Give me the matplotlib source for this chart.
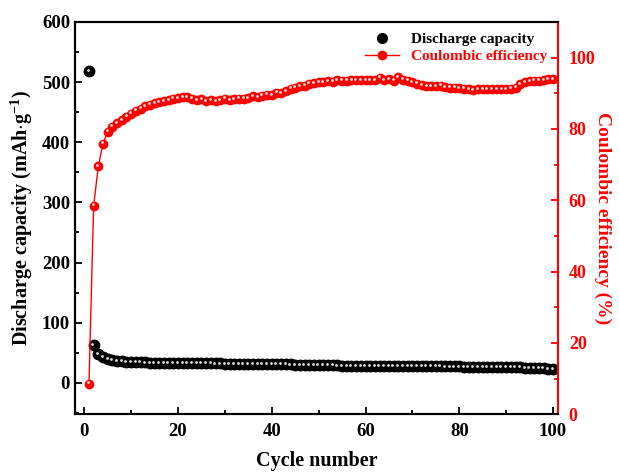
import numpy as np
import matplotlib.pyplot as plt
from matplotlib.ticker import MultipleLocator
from matplotlib.lines import Line2D

plt.rcParams['font.family'] = ['Liberation Serif', 'DejaVu Serif']
plt.rcParams['font.weight'] = 'bold'
plt.rcParams['mathtext.fontset'] = 'custom'
plt.rcParams['mathtext.bf'] = 'Liberation Serif:bold'
plt.rcParams['mathtext.rm'] = 'Liberation Serif:bold'

cycles = np.arange(1, 101)

capacity = [518, 63, 48, 43, 40, 38, 37, 36, 35.5, 35,
            34.5, 34.2, 34, 33.8, 33.6, 33.4, 33.3, 33.2, 33.1, 33,
            32.9, 32.8, 32.8, 32.7, 32.6, 32.5, 32.5, 32.4, 32.3, 32.2,
            32.2, 32.1, 32, 32, 31.9, 31.8, 31.7, 31.6, 31.5, 31.4,
            31.2, 31, 30.8, 30.6, 30.4, 30.2, 30, 29.8, 29.6, 29.4,
            29.3, 29.2, 29.1, 29, 28.9, 28.8, 28.7, 28.6, 28.5, 28.4,
            28.3, 28.2, 28.2, 28.1, 28, 28, 27.9, 27.9, 27.8, 27.8,
            27.7, 27.7, 27.6, 27.6, 27.5, 27.5, 27.4, 27.4, 27.3, 27.3,
            27.2, 27.2, 27.1, 27.1, 27, 27, 26.9, 26.8, 26.7, 26.6,
            26.4, 26.1, 25.8, 25.5, 25.2, 24.8, 24.5, 24.2, 23.9, 23.6]

efficiency = [8.5, 58.4, 69.6, 75.8, 79.2, 80.6, 81.6, 82.5, 83.4, 84.2,
              85.1, 85.6, 86.3, 86.8, 87.2, 87.5, 87.8, 88.1, 88.4, 88.6,
              88.8, 88.9, 88.5, 88.0, 88.3, 87.7, 88.0, 87.7, 88.1, 88.4,
              88.0, 88.3, 88.4, 88.4, 88.6, 89.1, 88.9, 89.3, 89.6, 89.5,
              90.1, 90.0, 90.6, 91.2, 91.5, 92.0, 92.1, 92.6, 92.8, 93.0,
              93.0, 93.4, 93.2, 93.6, 93.5, 93.5, 93.6, 93.6, 93.6, 93.6,
              93.6, 93.6, 94.3, 93.7, 93.9, 93.5, 94.4, 93.8, 93.5, 93.1,
              92.7, 92.3, 92.0, 92.0, 92.0, 92.1, 91.7, 91.5, 91.5, 91.4,
              91.2, 91.1, 90.9, 91.1, 91.1, 91.1, 91.1, 91.1, 91.1, 91.1,
              91.2, 91.5, 92.5, 93.1, 93.3, 93.5, 93.5, 93.7, 93.9, 93.9]

fig = plt.figure(figsize=(6.19, 4.75), dpi=100)
ax1 = fig.add_axes([0.121, 0.128, 0.780, 0.826])
ax2 = ax1.twinx()

# discharge capacity: black balls with a small highlight
ax1.plot(cycles, capacity, 'o', color='black', markersize=7.5, markeredgecolor='black', zorder=3)
ax1.plot(cycles - 0.25, np.array(capacity) + 1.5, 'o', color='#dddddd', markersize=2, markeredgewidth=0, zorder=4)

# coulombic efficiency: red balls joined by a line
ax2.plot(cycles, efficiency, '-o', color='red', lw=1, markersize=6, markeredgecolor='red', zorder=3)
ax2.plot(cycles - 0.2, np.array(efficiency) + 0.4, 'o', color='#ffe0e0', markersize=2, markeredgewidth=0, zorder=4)

ax1.set_xlim(-2, 101)
ax1.set_ylim(-52, 600)
ax2.set_ylim(0, 110)

ax1.xaxis.set_major_locator(MultipleLocator(20))
ax1.xaxis.set_minor_locator(MultipleLocator(10))
ax1.yaxis.set_major_locator(MultipleLocator(100))
ax1.yaxis.set_minor_locator(MultipleLocator(50))
ax2.yaxis.set_major_locator(MultipleLocator(20))
ax2.yaxis.set_minor_locator(MultipleLocator(10))

ax1.tick_params(axis='both', which='both', direction='in', labelsize=13.5, width=1.3)
ax1.tick_params(which='major', length=5)
ax1.tick_params(which='minor', length=3)
ax1.tick_params(axis='x', top=False, pad=6)
ax2.tick_params(axis='y', which='both', direction='in', colors='red', labelsize=13, width=1.3, pad=8)
ax2.tick_params(which='major', length=5)
ax2.tick_params(which='minor', length=3)

for s in ['left', 'bottom', 'top']:
    ax1.spines[s].set_linewidth(1.5)
    ax2.spines[s].set_linewidth(1.5)
ax2.spines['right'].set_color('red')
ax2.spines['right'].set_linewidth(1.5)
ax1.spines['right'].set_visible(False)

ax1.set_xlabel('Cycle number', fontsize=14.5, fontweight='bold', labelpad=8)
ax1.set_ylabel(r'Discharge capacity (mAh$\cdot$g$^{\mathbf{-1}}$)', fontsize=14.5, fontweight='bold', labelpad=5)
ax2.set_ylabel('Coulombic efficiency (%)', fontsize=14, fontweight='bold', color='red', rotation=270, labelpad=11)

handles = [Line2D([], [], marker='o', ls='none', color='black', markersize=7),
           Line2D([], [], marker='o', ls='-', color='red', lw=1, markersize=6)]
leg = ax1.legend(handles, ['Discharge capacity', 'Coulombic efficiency'], loc='upper right',
                 frameon=False, fontsize=11, handlelength=2.2, borderaxespad=0.3, labelspacing=0.2)
leg.get_texts()[1].set_color('red')

fig.savefig('out.png', dpi=100)
